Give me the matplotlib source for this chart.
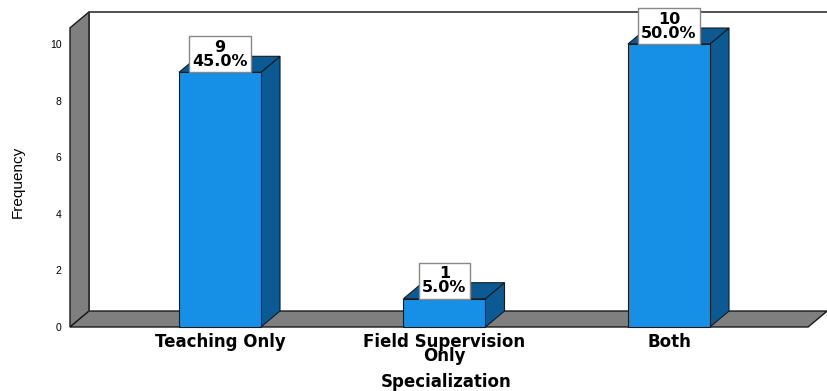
import matplotlib.pyplot as plt
from matplotlib.patches import Polygon, Rectangle

categories = ['Teaching Only', 'Field Supervision\nOnly', 'Both']
counts = [9, 1, 10]
percents = [45.0, 5.0, 50.0]

front_color = '#1690e6'
dark_color = '#0b5a94'
wall_color = '#7f7f7f'
edge = '#1a1a1a'

# depth offset of the 3D look, in data units
dx, dy = 0.085, 0.565
bw = 0.365
x0, xr = -0.668, 2.62

fig = plt.figure(figsize=(8.27, 3.91), dpi=100)
ax = fig.add_axes([70 / 827, 64 / 391, 757 / 827, 283 / 391])
ax.set_xlim(x0, 2.704)
ax.set_ylim(0, 10)
for s in ax.spines.values():
    s.set_visible(False)

# back wall edges
ax.plot([x0 + dx, x0 + dx, 2.9], [dy, 10.57 + dy, 10.57 + dy], color='#333333', lw=1.2, clip_on=False)
# left wall
ax.add_patch(Polygon([(x0, 0), (x0, 10.57), (x0 + dx, 10.57 + dy), (x0 + dx, dy)],
                     closed=True, fc=wall_color, ec=edge, lw=1, clip_on=False))
# floor
ax.add_patch(Polygon([(x0, 0), (xr, 0), (xr + dx, dy), (x0 + dx, dy)],
                     closed=True, fc=wall_color, ec=edge, lw=1, clip_on=False))

for i, (v, p) in enumerate(zip(counts, percents)):
    l, r = i - bw / 2, i + bw / 2
    ax.add_patch(Polygon([(r, 0), (r + dx, dy), (r + dx, v + dy), (r, v)],
                         closed=True, fc=dark_color, ec=edge, lw=0.8, clip_on=False))
    ax.add_patch(Polygon([(l, v), (r, v), (r + dx, v + dy), (l + dx, v + dy)],
                         closed=True, fc=dark_color, ec=edge, lw=0.8, clip_on=False))
    ax.add_patch(Rectangle((l, 0), bw, v, fc=front_color, ec=edge, lw=0.8, clip_on=False))
    ax.text(i, v + 0.12, f'{v}\n{p:.1f}%', ha='center', va='bottom', fontsize=11.5,
            fontweight='bold', family='DejaVu Sans', linespacing=0.92,
            bbox=dict(boxstyle='square,pad=0.22', fc='white', ec='#888888', lw=1), clip_on=False)

ax.set_yticks(range(0, 11, 2))
ax.set_yticklabels([str(t) for t in range(0, 11, 2)], fontsize=7.5, family='Liberation Sans')
ax.tick_params(axis='y', length=0, pad=6)
ax.set_xticks(range(len(categories)))
ax.set_xticklabels(categories, fontsize=12, fontweight='bold', family='DejaVu Sans',
                   linespacing=0.78)
ax.tick_params(axis='x', length=0, pad=4)

fig.text(18 / 827, 1 - 182 / 391, 'Frequency', rotation=90, ha='center', va='center',
         fontsize=11, family=['Liberation Sans Narrow', 'Liberation Sans'])
fig.text(446 / 827, 1 - 382 / 391, 'Specialization', ha='center', va='center',
         fontsize=12, fontweight='bold', family='DejaVu Sans')

fig.savefig('out.png', dpi=100)
